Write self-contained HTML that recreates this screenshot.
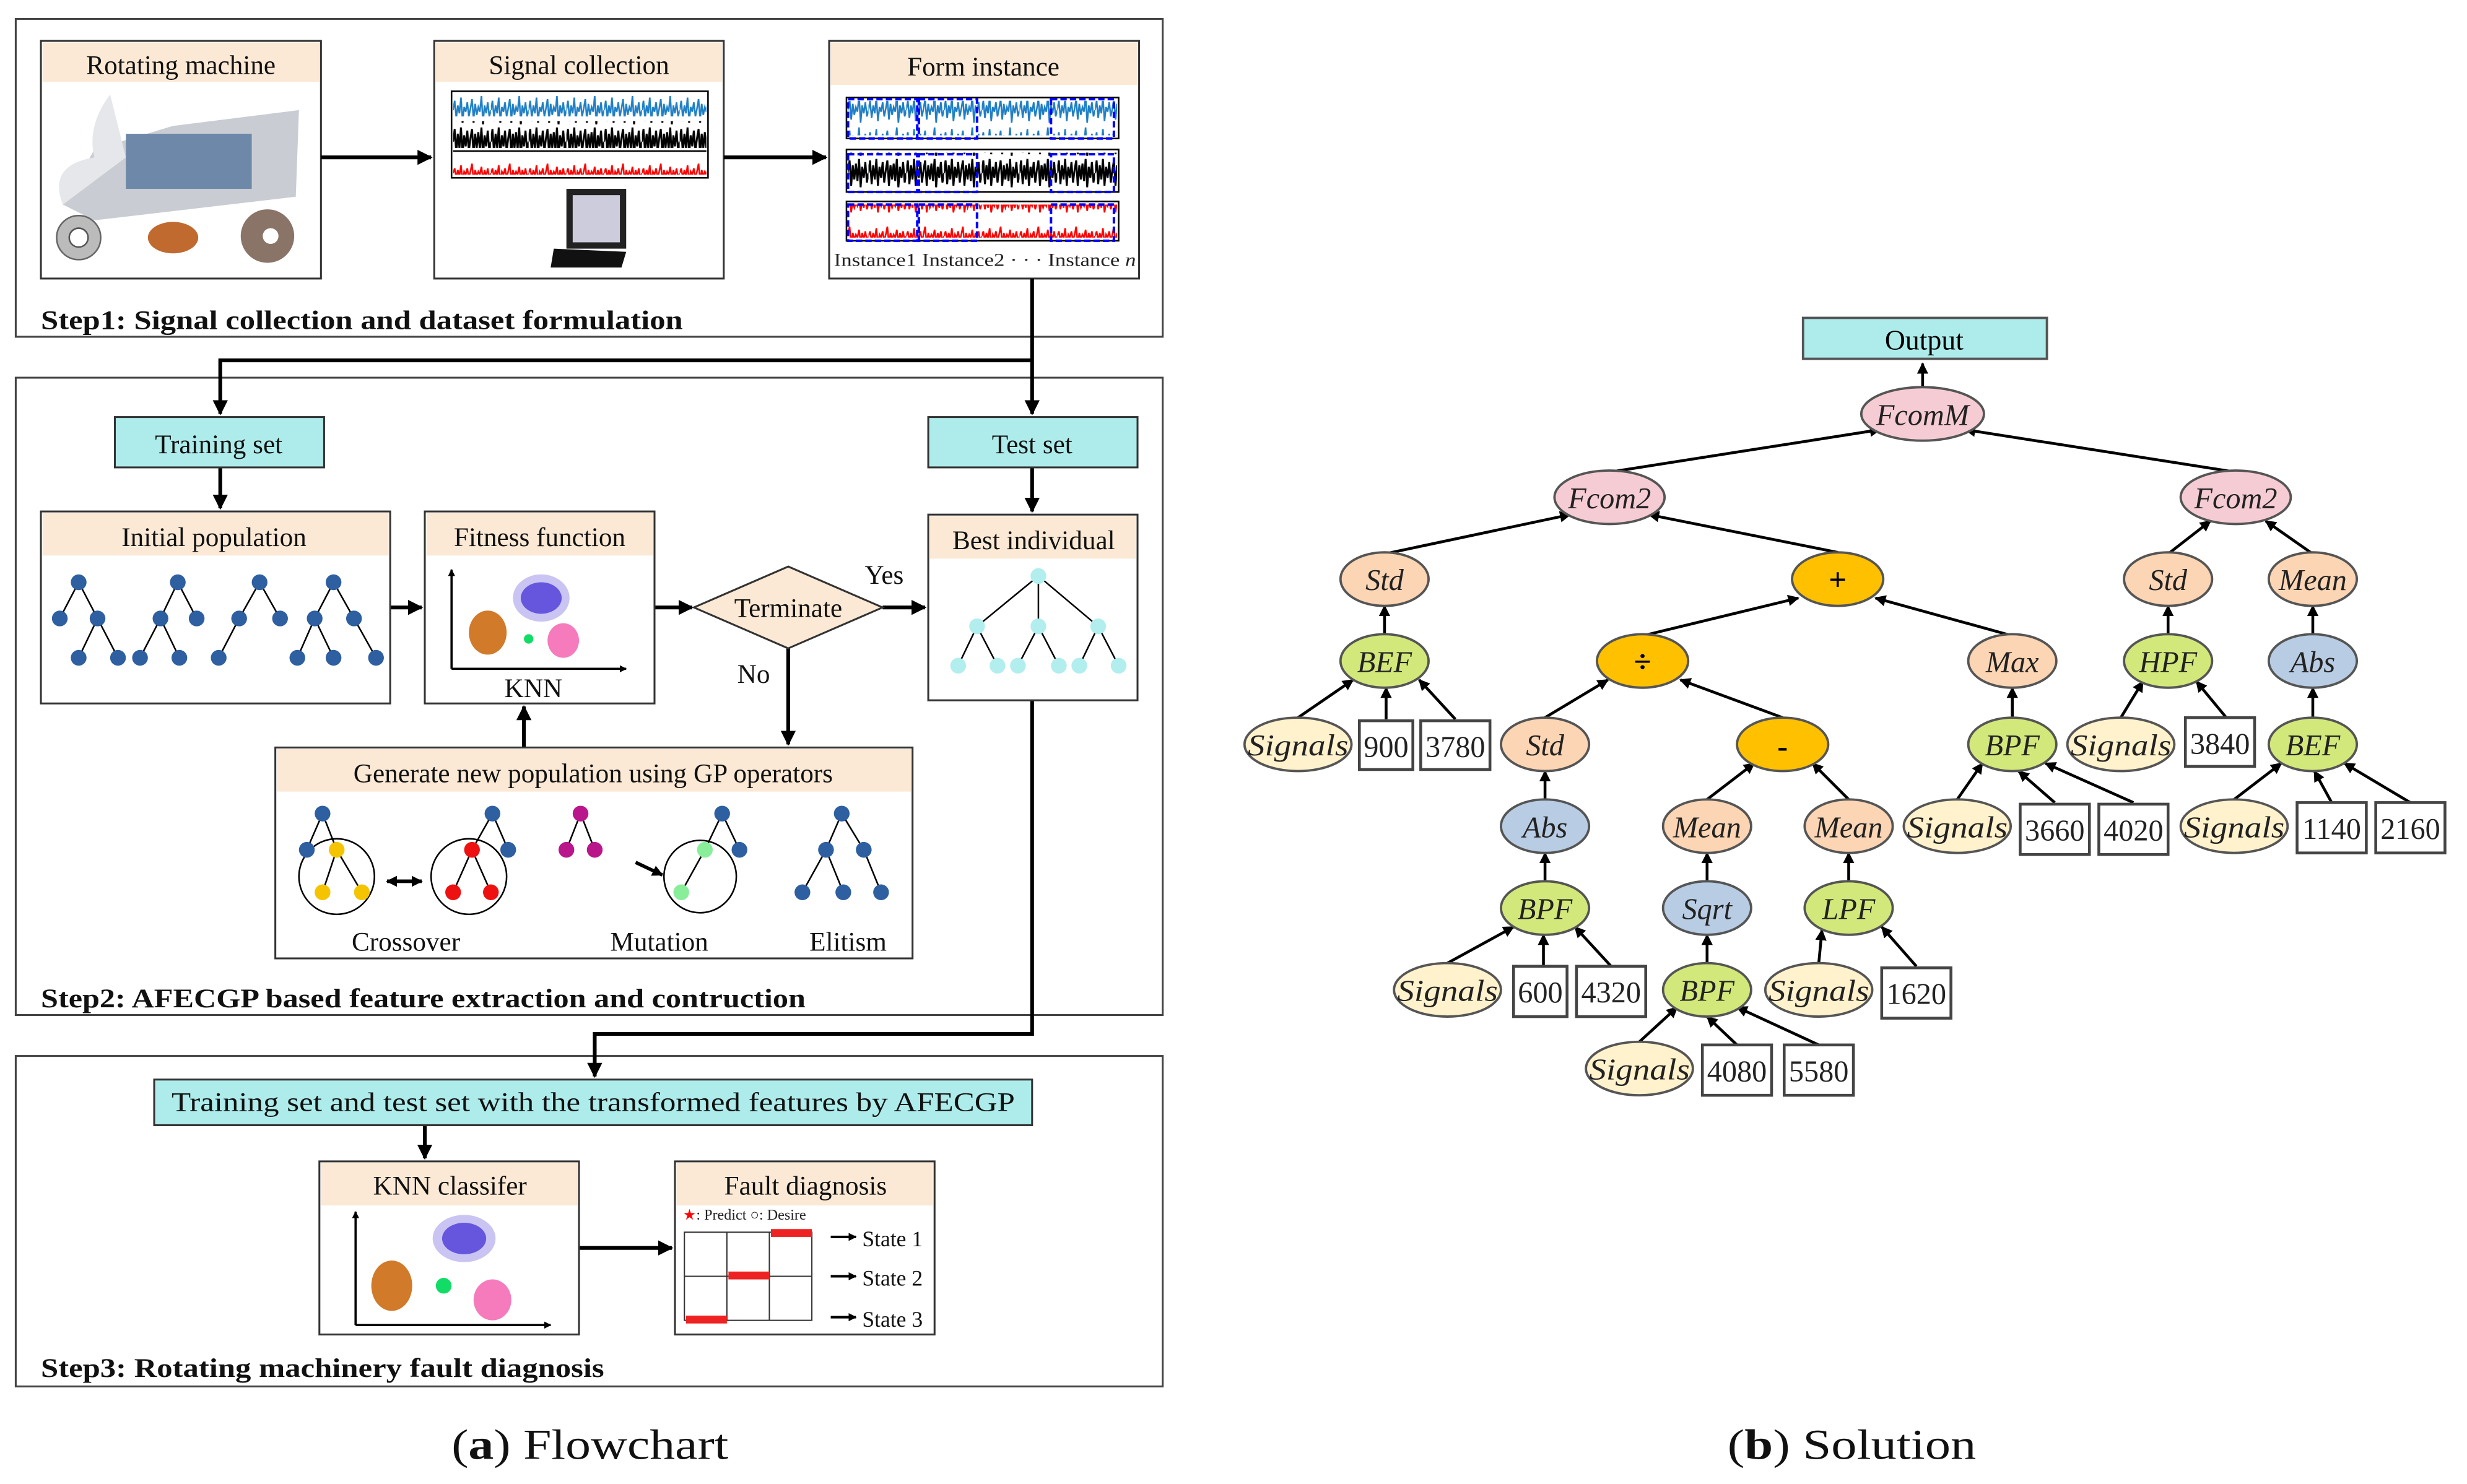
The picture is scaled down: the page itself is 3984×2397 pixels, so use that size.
<!DOCTYPE html>
<html><head><meta charset="utf-8"><style>html,body{margin:0;padding:0;background:#fff}svg{display:block}</style></head><body>
<svg xmlns="http://www.w3.org/2000/svg" width="3984" height="2397" viewBox="0 0 1568 943" preserveAspectRatio="none" font-family="Liberation Serif, serif">
<defs>
<marker id="a" viewBox="0 0 10 10" refX="9" refY="5" markerWidth="4" markerHeight="4" orient="auto"><path d="M0,0L10,5L0,10z" fill="#000"/></marker>
<marker id="b" viewBox="0 0 10 10" refX="9" refY="5" markerWidth="3.2" markerHeight="3.2" orient="auto"><path d="M0,0L10,5L0,10z" fill="#000"/></marker>
<pattern id="nb" width="24" height="20" patternUnits="userSpaceOnUse"><path d="M0,10L1,4L2,15L3,7L4,12L5,2L6,17L7,8L8,11L9,5L10,14L11,9L12,3L13,16L14,6L15,13L16,8L17,11L18,1L19,18L20,7L21,12L22,5L23,14L24,10" fill="none" stroke="#1f7fc4" stroke-width="1"/></pattern>
<pattern id="nk" width="24" height="20" patternUnits="userSpaceOnUse"><path d="M0,10L1,2L2,17L3,5L4,14L5,1L6,18L7,6L8,13L9,3L10,16L11,8L12,2L13,18L14,5L15,14L16,4L17,15L18,1L19,19L20,6L21,13L22,3L23,16L24,10" fill="none" stroke="#000" stroke-width="1.2"/></pattern>
<pattern id="nr" width="24" height="20" patternUnits="userSpaceOnUse"><path d="M0,10L1,7L2,13L3,8L4,12L5,5L6,15L7,9L8,11L9,7L10,13L11,9L12,4L13,15L14,8L15,12L16,9L17,11L18,6L19,14L20,8L21,12L22,7L23,13L24,10" fill="none" stroke="#f00" stroke-width="1"/></pattern>
</defs>
<g stroke="#000" fill="none">
<rect x="10" y="12" width="729" height="202" stroke="#444" stroke-width="1.2"/>
<rect x="10" y="240" width="729" height="405" stroke="#444" stroke-width="1.2"/>
<rect x="10" y="671" width="729" height="210" stroke="#444" stroke-width="1.2"/>
</g>
<g stroke="#333" stroke-width="1.2">
<rect x="26" y="26" width="178" height="151" fill="#fff"/>
<rect x="27" y="27" width="176" height="25" fill="#fbe9d5" stroke="none"/>
<rect x="276" y="26" width="184" height="151" fill="#fff"/>
<rect x="277" y="27" width="182" height="25" fill="#fbe9d5" stroke="none"/>
<rect x="527" y="26" width="197" height="151" fill="#fff"/>
<rect x="528" y="27" width="195" height="27" fill="#fbe9d5" stroke="none"/>
</g>
<g font-size="17" text-anchor="middle" fill="#111">
<text x="115" y="47">Rotating machine</text>
<text x="368" y="47">Signal collection</text>
<text x="625" y="48">Form instance</text>
</g>
<path d="M40,130 L60,95 L110,80 L190,70 L188,125 L60,140 Z" fill="#c9ccd2"/>
<rect x="80" y="85" width="80" height="35" fill="#6d88a8"/>
<path d="M40,130 Q30,105 60,100 Q55,80 70,60 L80,100Z" fill="#e5e7ea"/>
<circle cx="50" cy="151" r="14" fill="#bbb" stroke="#666"/><circle cx="50" cy="151" r="6" fill="#fff" stroke="#555"/>
<ellipse cx="110" cy="151" rx="16" ry="10" fill="#c06a30"/>
<circle cx="170" cy="150" r="17" fill="#8a7468"/><circle cx="172" cy="150" r="5" fill="#fff"/>
<rect x="287" y="58" width="163" height="55" fill="#fff" stroke="#000"/>
<rect x="288" y="60" width="161" height="14" fill="url(#nb)"/>
<rect x="288" y="77" width="161" height="17" fill="url(#nk)"/>
<line x1="288" y1="96" x2="449" y2="96" stroke="#000"/>
<rect x="288" y="98" width="161" height="13" fill="url(#nr)"/>
<path d="M350,170 L395,170 L398,160 L352,158Z" fill="#111"/><rect x="360" y="120" width="38" height="38" fill="#222"/><rect x="364" y="124" width="30" height="30" fill="#ccd"/>
<g stroke="#000" stroke-width="1" fill="#fff">
<rect x="538" y="62" width="173" height="26"/><rect x="538" y="95" width="173" height="27"/><rect x="538" y="128" width="173" height="25"/>
</g>
<rect x="539" y="64" width="171" height="22" fill="url(#nb)"/>
<rect x="539" y="97" width="171" height="23" fill="url(#nk)"/>
<rect x="539" y="130" width="171" height="21" fill="url(#nr)"/>
<g fill="none" stroke="#00f" stroke-width="1.6" stroke-dasharray="4,2">
<rect x="539" y="63" width="44" height="25"/><rect x="584" y="63" width="37" height="25"/><rect x="668" y="63" width="40" height="25"/>
<rect x="539" y="98" width="44" height="24"/><rect x="584" y="98" width="37" height="24"/><rect x="668" y="98" width="40" height="24"/>
<rect x="539" y="130" width="44" height="23"/><rect x="584" y="130" width="37" height="23"/><rect x="668" y="130" width="40" height="23"/>
</g>
<text x="530" y="169" font-size="11.5" fill="#222" textLength="192" lengthAdjust="spacingAndGlyphs">Instance1  Instance2 · · · Instance <tspan font-style="italic">n</tspan></text>
<g stroke="#000" stroke-width="2.4" fill="none">
<line x1="204" y1="100" x2="274" y2="100" marker-end="url(#a)"/>
<line x1="460" y1="100" x2="525" y2="100" marker-end="url(#a)"/>
<line x1="656" y1="177" x2="656" y2="263" marker-end="url(#a)"/>
<polyline points="656,229 140,229 140,263" marker-end="url(#a)"/>
<line x1="140" y1="297" x2="140" y2="323" marker-end="url(#a)"/>
<line x1="656" y1="297" x2="656" y2="325" marker-end="url(#a)"/>
<line x1="248" y1="386" x2="268" y2="386" marker-end="url(#a)"/>
<line x1="416" y1="386" x2="440" y2="386" marker-end="url(#a)"/>
<line x1="561" y1="386" x2="588" y2="386" marker-end="url(#a)"/>
<line x1="501" y1="412" x2="501" y2="473" marker-end="url(#a)"/>
<line x1="333" y1="475" x2="333" y2="449" marker-end="url(#a)"/>
<polyline points="656,445 656,657 378,657 378,684" marker-end="url(#a)"/>
<line x1="270" y1="715" x2="270" y2="736" marker-end="url(#a)"/>
<line x1="368" y1="793" x2="427" y2="793" marker-end="url(#a)"/>
</g>
<text x="26" y="209" font-size="17" font-weight="bold" fill="#111" textLength="408" lengthAdjust="spacingAndGlyphs">Step1: Signal collection and dataset formulation</text>
<g stroke="#333" stroke-width="1.2">
<rect x="73" y="265" width="133" height="32" fill="#aeeceb"/>
<rect x="590" y="265" width="133" height="32" fill="#aeeceb"/>
<rect x="26" y="325" width="222" height="122" fill="#fff"/>
<rect x="27" y="326" width="220" height="27" fill="#fbe9d5" stroke="none"/>
<rect x="270" y="325" width="146" height="122" fill="#fff"/>
<rect x="271" y="326" width="144" height="27" fill="#fbe9d5" stroke="none"/>
<rect x="590" y="327" width="133" height="118" fill="#fff"/>
<rect x="591" y="328" width="131" height="27" fill="#fbe9d5" stroke="none"/>
<path d="M441,386 L501,360 L561,386 L501,412Z" fill="#fbe9d5"/>
<rect x="175" y="475" width="405" height="134" fill="#fff"/>
<rect x="176" y="476" width="403" height="27" fill="#fbe9d5" stroke="none"/>
</g>
<g font-size="17" text-anchor="middle" fill="#111">
<text x="139" y="288">Training set</text>
<text x="656" y="288">Test set</text>
<text x="136" y="347">Initial population</text>
<text x="343" y="347">Fitness function</text>
<text x="657" y="349">Best individual</text>
<text x="501" y="392">Terminate</text>
<text x="562" y="371">Yes</text>
<text x="479" y="434">No</text>
<text x="339" y="443">KNN</text>
<text x="377" y="497">Generate new population using GP operators</text>
<text x="258" y="604">Crossover</text>
<text x="419" y="604">Mutation</text>
<text x="539" y="604">Elitism</text>
</g>
<g stroke="#000" stroke-width="1">
<path d="M50,370L38,393M50,370L62,393M62,393L50,418M62,393L75,418M113,370L102,393M113,370L125,393M102,393L89,418M102,393L114,418M165,370L152,393M165,370L178,393M152,393L139,418M212,370L200,393M212,370L225,393M200,393L189,418M200,393L212,418M225,393L239,418"/>
</g>
<g fill="#2e5fa0">
<circle cx="50" cy="370" r="5"/><circle cx="38" cy="393" r="5"/><circle cx="62" cy="393" r="5"/><circle cx="50" cy="418" r="5"/><circle cx="75" cy="418" r="5"/>
<circle cx="113" cy="370" r="5"/><circle cx="102" cy="393" r="5"/><circle cx="125" cy="393" r="5"/><circle cx="89" cy="418" r="5"/><circle cx="114" cy="418" r="5"/>
<circle cx="165" cy="370" r="5"/><circle cx="152" cy="393" r="5"/><circle cx="178" cy="393" r="5"/><circle cx="139" cy="418" r="5"/>
<circle cx="212" cy="370" r="5"/><circle cx="200" cy="393" r="5"/><circle cx="225" cy="393" r="5"/><circle cx="189" cy="418" r="5"/><circle cx="212" cy="418" r="5"/><circle cx="239" cy="418" r="5"/>
</g>
<g stroke="#000" stroke-width="1.4" fill="none">
<line x1="287" y1="425" x2="398" y2="425" marker-end="url(#b)"/><line x1="287" y1="425" x2="287" y2="362" marker-end="url(#b)"/>
</g>
<ellipse cx="344" cy="380" rx="18" ry="15" fill="#c9c4f2"/><ellipse cx="344" cy="380" rx="13" ry="10" fill="#6655dd"/>
<ellipse cx="310" cy="402" rx="12" ry="14" fill="#d07a2a"/>
<ellipse cx="358" cy="407" rx="10" ry="11" fill="#f57bbc"/>
<circle cx="336" cy="406" r="3" fill="#11dd66"/>
<g stroke="#000" stroke-width="1"><path d="M660,366L621,398M660,366L660,398M660,366L698,398M621,398L609,423M621,398L634,423M660,398L647,423M660,398L673,423M698,398L686,423M698,398L711,423"/></g>
<g fill="#b2eeee"><circle cx="660" cy="366" r="5"/><circle cx="621" cy="398" r="5"/><circle cx="660" cy="398" r="5"/><circle cx="698" cy="398" r="5"/><circle cx="609" cy="423" r="5"/><circle cx="634" cy="423" r="5"/><circle cx="647" cy="423" r="5"/><circle cx="673" cy="423" r="5"/><circle cx="686" cy="423" r="5"/><circle cx="711" cy="423" r="5"/></g>
<g stroke="#000" stroke-width="1" fill="none">
<path d="M205,517L195,540M205,517L214,540M214,540L205,567M214,540L230,567"/>
<circle cx="214" cy="557" r="24"/>
<path d="M313,517L300,540M313,517L323,540M300,540L288,567M300,540L312,567"/>
<circle cx="298" cy="557" r="24"/>
<path d="M369,517L360,540M369,517L378,540M459,517L448,540M459,517L470,540M448,540L433,567"/>
<circle cx="445" cy="557" r="23"/>
<path d="M535,517L525,540M535,517L549,540M525,540L510,567M525,540L536,567M549,540L560,567"/>
<line x1="246" y1="560" x2="268" y2="560" stroke-width="2.2" marker-end="url(#b)"/>
<line x1="268" y1="560" x2="246" y2="560" stroke-width="2.2" marker-end="url(#b)"/>
<line x1="404" y1="548" x2="421" y2="556" stroke-width="2.2" marker-end="url(#b)"/>
</g>
<g fill="#2e5fa0"><circle cx="205" cy="517" r="5"/><circle cx="195" cy="540" r="5"/><circle cx="313" cy="517" r="5"/><circle cx="323" cy="540" r="5"/><circle cx="459" cy="517" r="5"/><circle cx="470" cy="540" r="5"/><circle cx="535" cy="517" r="5"/><circle cx="525" cy="540" r="5"/><circle cx="549" cy="540" r="5"/><circle cx="510" cy="567" r="5"/><circle cx="536" cy="567" r="5"/><circle cx="560" cy="567" r="5"/></g>
<g fill="#f5c400"><circle cx="214" cy="540" r="5"/><circle cx="205" cy="567" r="5"/><circle cx="230" cy="567" r="5"/></g>
<g fill="#ee1111"><circle cx="300" cy="540" r="5"/><circle cx="288" cy="567" r="5"/><circle cx="312" cy="567" r="5"/></g>
<g fill="#b8168a"><circle cx="369" cy="517" r="5"/><circle cx="360" cy="540" r="5"/><circle cx="378" cy="540" r="5"/></g>
<g fill="#88ee99"><circle cx="448" cy="540" r="5"/><circle cx="433" cy="567" r="5"/></g>
<text x="26" y="640" font-size="17" font-weight="bold" fill="#111" textLength="486" lengthAdjust="spacingAndGlyphs">Step2: AFECGP based feature extraction and contruction</text>
<g stroke="#333" stroke-width="1.2">
<rect x="98" y="686" width="558" height="29" fill="#aeeceb"/>
<rect x="203" y="738" width="165" height="110" fill="#fff"/>
<rect x="204" y="739" width="163" height="27" fill="#fbe9d5" stroke="none"/>
<rect x="429" y="738" width="165" height="110" fill="#fff"/>
<rect x="430" y="739" width="163" height="27" fill="#fbe9d5" stroke="none"/>
</g>
<g font-size="17" text-anchor="middle" fill="#111">
<text x="377" y="706" textLength="536" lengthAdjust="spacingAndGlyphs">Training set and test set with the transformed features by AFECGP</text>
<text x="286" y="759">KNN classifer</text>
<text x="512" y="759">Fault diagnosis</text>
</g>
<g stroke="#000" stroke-width="1.4" fill="none">
<line x1="226" y1="842" x2="350" y2="842" marker-end="url(#b)"/><line x1="226" y1="842" x2="226" y2="770" marker-end="url(#b)"/>
</g>
<ellipse cx="295" cy="787" rx="20" ry="15" fill="#c9c4f2"/><ellipse cx="295" cy="787" rx="14" ry="10" fill="#6655dd"/>
<ellipse cx="249" cy="817" rx="13" ry="16" fill="#d07a2a"/>
<ellipse cx="313" cy="826" rx="12" ry="13" fill="#f57bbc"/>
<circle cx="282" cy="817" r="5" fill="#11dd66"/>
<text x="434" y="775" font-size="9.5" fill="#222"><tspan fill="#f00">★</tspan>: Predict  ○: Desire</text>
<g stroke="#333" stroke-width="0.8" fill="none"><rect x="435" y="783" width="81" height="56"/><line x1="462" y1="783" x2="462" y2="839"/><line x1="489" y1="783" x2="489" y2="839"/><line x1="435" y1="811" x2="516" y2="811"/></g>
<g fill="#e22"><rect x="490" y="781" width="26" height="5"/><rect x="463" y="808" width="26" height="5"/><rect x="436" y="836" width="26" height="5"/></g>
<g stroke="#000" stroke-width="1.6"><line x1="528" y1="786" x2="544" y2="786" marker-end="url(#b)"/><line x1="528" y1="811" x2="544" y2="811" marker-end="url(#b)"/><line x1="528" y1="837" x2="544" y2="837" marker-end="url(#b)"/></g>
<g font-size="14" fill="#111"><text x="548" y="792">State 1</text><text x="548" y="817">State 2</text><text x="548" y="843">State 3</text></g>
<text x="26" y="875" font-size="17" font-weight="bold" fill="#111" textLength="358" lengthAdjust="spacingAndGlyphs">Step3: Rotating machinery fault diagnosis</text>
<g font-size="27" text-anchor="middle" fill="#111">
<text x="375" y="927" textLength="176" lengthAdjust="spacingAndGlyphs">(<tspan font-weight="bold">a</tspan>) Flowchart</text>
<text x="1177" y="927" textLength="158" lengthAdjust="spacingAndGlyphs">(<tspan font-weight="bold">b</tspan>) Solution</text>
</g>
<rect x="1146" y="202" width="155" height="26" fill="#aeeceb" stroke="#555" stroke-width="1.5"/>
<text x="1223" y="222" font-size="18" text-anchor="middle">Output</text>
<g stroke="#000" stroke-width="1.8" fill="none">
<line x1="1222" y1="246" x2="1222" y2="231" marker-end="url(#a)"/>
<line x1="1023" y1="300" x2="1195" y2="273" marker-end="url(#a)"/>
<line x1="1421" y1="300" x2="1249" y2="273" marker-end="url(#a)"/>
<line x1="880" y1="352" x2="998" y2="327" marker-end="url(#a)"/>
<line x1="1168" y1="351" x2="1048" y2="327" marker-end="url(#a)"/>
<line x1="1378" y1="352" x2="1405" y2="331" marker-end="url(#a)"/>
<line x1="1470" y1="352" x2="1440" y2="331" marker-end="url(#a)"/>
<line x1="880" y1="403" x2="880" y2="385" marker-end="url(#a)"/>
<line x1="1044" y1="404" x2="1143" y2="380" marker-end="url(#a)"/>
<line x1="1279" y1="404" x2="1192" y2="380" marker-end="url(#a)"/>
<line x1="1378" y1="403" x2="1378" y2="385" marker-end="url(#a)"/>
<line x1="1470" y1="403" x2="1470" y2="385" marker-end="url(#a)"/>
<line x1="825" y1="456" x2="860" y2="432" marker-end="url(#a)"/>
<line x1="881" y1="457" x2="881" y2="437" marker-end="url(#a)"/>
<line x1="925" y1="457" x2="902" y2="432" marker-end="url(#a)"/>
<line x1="982" y1="456" x2="1022" y2="432" marker-end="url(#a)"/>
<line x1="1133" y1="456" x2="1068" y2="432" marker-end="url(#a)"/>
<line x1="1279" y1="456" x2="1279" y2="437" marker-end="url(#a)"/>
<line x1="1348" y1="456" x2="1362" y2="433" marker-end="url(#a)"/>
<line x1="1415" y1="456" x2="1396" y2="433" marker-end="url(#a)"/>
<line x1="1470" y1="456" x2="1470" y2="437" marker-end="url(#a)"/>
<line x1="982" y1="508" x2="982" y2="490" marker-end="url(#a)"/>
<line x1="1085" y1="508" x2="1115" y2="485" marker-end="url(#a)"/>
<line x1="1175" y1="508" x2="1152" y2="485" marker-end="url(#a)"/>
<line x1="1244" y1="508" x2="1260" y2="485" marker-end="url(#a)"/>
<line x1="1306" y1="510" x2="1283" y2="490" marker-end="url(#a)"/>
<line x1="1356" y1="510" x2="1300" y2="485" marker-end="url(#a)"/>
<line x1="1420" y1="508" x2="1450" y2="485" marker-end="url(#a)"/>
<line x1="1482" y1="510" x2="1471" y2="490" marker-end="url(#a)"/>
<line x1="1532" y1="510" x2="1490" y2="485" marker-end="url(#a)"/>
<line x1="982" y1="560" x2="982" y2="542" marker-end="url(#a)"/>
<line x1="1085" y1="560" x2="1085" y2="542" marker-end="url(#a)"/>
<line x1="1175" y1="560" x2="1175" y2="542" marker-end="url(#a)"/>
<line x1="920" y1="612" x2="962" y2="589" marker-end="url(#a)"/>
<line x1="981" y1="614" x2="981" y2="594" marker-end="url(#a)"/>
<line x1="1024" y1="614" x2="1001" y2="589" marker-end="url(#a)"/>
<line x1="1085" y1="612" x2="1085" y2="594" marker-end="url(#a)"/>
<line x1="1156" y1="612" x2="1158" y2="591" marker-end="url(#a)"/>
<line x1="1218" y1="614" x2="1196" y2="589" marker-end="url(#a)"/>
<line x1="1042" y1="662" x2="1066" y2="640" marker-end="url(#a)"/>
<line x1="1104" y1="664" x2="1085" y2="646" marker-end="url(#a)"/>
<line x1="1156" y1="664" x2="1104" y2="640" marker-end="url(#a)"/>
</g>
<g stroke="#555" stroke-width="1.5">
<ellipse cx="1222" cy="263" rx="39" ry="17" fill="#f6ccd4"/>
<ellipse cx="1023" cy="316" rx="35" ry="17" fill="#f6ccd4"/>
<ellipse cx="1421" cy="316" rx="35" ry="17" fill="#f6ccd4"/>
<ellipse cx="880" cy="368" rx="28" ry="17" fill="#fcd5b4"/>
<ellipse cx="1168" cy="368" rx="29" ry="17" fill="#ffc000"/>
<ellipse cx="1378" cy="368" rx="28" ry="17" fill="#fcd5b4"/>
<ellipse cx="1470" cy="368" rx="28" ry="17" fill="#fcd5b4"/>
<ellipse cx="880" cy="420" rx="28" ry="17" fill="#d3e87a"/>
<ellipse cx="1044" cy="420" rx="29" ry="17" fill="#ffc000"/>
<ellipse cx="1279" cy="420" rx="28" ry="17" fill="#fcd5b4"/>
<ellipse cx="1378" cy="420" rx="28" ry="17" fill="#d3e87a"/>
<ellipse cx="1470" cy="420" rx="28" ry="17" fill="#b8cce4"/>
<ellipse cx="825" cy="473" rx="34" ry="17" fill="#fff2cc"/>
<ellipse cx="982" cy="473" rx="28" ry="17" fill="#fcd5b4"/>
<ellipse cx="1133" cy="473" rx="29" ry="17" fill="#ffc000"/>
<ellipse cx="1279" cy="473" rx="28" ry="17" fill="#d3e87a"/>
<ellipse cx="1348" cy="473" rx="34" ry="17" fill="#fff2cc"/>
<ellipse cx="1470" cy="473" rx="28" ry="17" fill="#d3e87a"/>
<ellipse cx="982" cy="525" rx="28" ry="17" fill="#b8cce4"/>
<ellipse cx="1085" cy="525" rx="28" ry="17" fill="#fcd5b4"/>
<ellipse cx="1175" cy="525" rx="28" ry="17" fill="#fcd5b4"/>
<ellipse cx="1244" cy="525" rx="34" ry="17" fill="#fff2cc"/>
<ellipse cx="1420" cy="525" rx="34" ry="17" fill="#fff2cc"/>
<ellipse cx="982" cy="577" rx="28" ry="17" fill="#d3e87a"/>
<ellipse cx="1085" cy="577" rx="28" ry="17" fill="#b8cce4"/>
<ellipse cx="1175" cy="577" rx="28" ry="17" fill="#d3e87a"/>
<ellipse cx="920" cy="629" rx="34" ry="17" fill="#fff2cc"/>
<ellipse cx="1085" cy="629" rx="28" ry="17" fill="#d3e87a"/>
<ellipse cx="1156" cy="629" rx="34" ry="17" fill="#fff2cc"/>
<ellipse cx="1042" cy="679" rx="34" ry="17" fill="#fff2cc"/>
</g>
<g stroke="#444" stroke-width="1.8" fill="#fff">
<rect x="864" y="458" width="34" height="31"/><rect x="903" y="458" width="44" height="31"/>
<rect x="1389" y="456" width="44" height="31"/>
<rect x="1284" y="511" width="44" height="32"/><rect x="1334" y="511" width="44" height="32"/>
<rect x="1460" y="510" width="44" height="32"/><rect x="1510" y="510" width="44" height="32"/>
<rect x="962" y="614" width="34" height="32"/><rect x="1002" y="614" width="44" height="32"/>
<rect x="1196" y="615" width="44" height="32"/>
<rect x="1082" y="664" width="44" height="32"/><rect x="1134" y="664" width="44" height="32"/>
</g>
<g font-size="19" font-style="italic" text-anchor="middle" fill="#222">
<text x="1222" y="270">FcomM</text><text x="1023" y="323">Fcom2</text><text x="1421" y="323">Fcom2</text>
<text x="880" y="375">Std</text><text x="1378" y="375">Std</text><text x="1470" y="375">Mean</text>
<text x="880" y="427">BEF</text><text x="1279" y="427">Max</text><text x="1378" y="427">HPF</text><text x="1470" y="427">Abs</text>
<text x="825" y="480" textLength="64" lengthAdjust="spacingAndGlyphs">Signals</text><text x="982" y="480">Std</text><text x="1279" y="480">BPF</text><text x="1348" y="480" textLength="64" lengthAdjust="spacingAndGlyphs">Signals</text><text x="1470" y="480">BEF</text>
<text x="982" y="532">Abs</text><text x="1085" y="532">Mean</text><text x="1175" y="532">Mean</text><text x="1244" y="532" textLength="64" lengthAdjust="spacingAndGlyphs">Signals</text><text x="1420" y="532" textLength="64" lengthAdjust="spacingAndGlyphs">Signals</text>
<text x="982" y="584">BPF</text><text x="1085" y="584">Sqrt</text><text x="1175" y="584">LPF</text>
<text x="920" y="636" textLength="64" lengthAdjust="spacingAndGlyphs">Signals</text><text x="1085" y="636">BPF</text><text x="1156" y="636" textLength="64" lengthAdjust="spacingAndGlyphs">Signals</text>
<text x="1042" y="686" textLength="64" lengthAdjust="spacingAndGlyphs">Signals</text>
</g>
<g font-size="20" text-anchor="middle" fill="#000" font-weight="bold">
<text x="1168" y="375">+</text><text x="1044" y="427">÷</text><text x="1133" y="481">-</text>
</g>
<g font-size="19" text-anchor="middle" fill="#222">
<text x="881" y="481">900</text><text x="925" y="481">3780</text><text x="1411" y="479">3840</text>
<text x="1306" y="534">3660</text><text x="1356" y="534">4020</text><text x="1482" y="533">1140</text><text x="1532" y="533">2160</text>
<text x="979" y="637">600</text><text x="1024" y="637">4320</text><text x="1218" y="638">1620</text>
<text x="1104" y="687">4080</text><text x="1156" y="687">5580</text>
</g>
</svg>
</body></html>
